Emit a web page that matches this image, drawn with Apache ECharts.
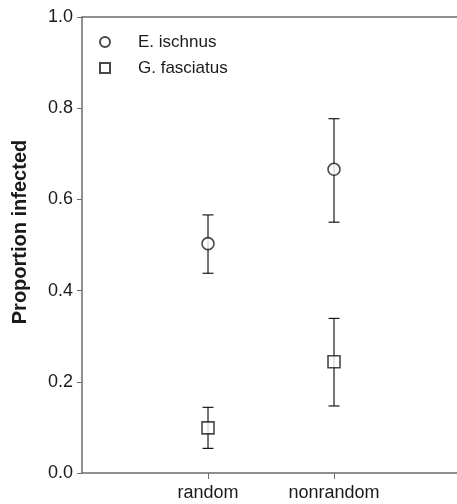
<!DOCTYPE html>
<html>
<head>
<meta charset="utf-8">
<script src="https://cdn.jsdelivr.net/npm/echarts@6/dist/echarts.min.js"></script>
<style>
  html, body { margin: 0; padding: 0; background: #fff; }
  #chart { width: 457px; height: 504px; }
</style>
</head>
<body>
<div id="chart"></div>
<script>
// categories sit at x = 1 and 2 on a 0..xMax value axis
const categories = ['random', 'nonrandom']
const catPos = [1, 2]
const xMax = 2.976

// E. ischnus
const ischnusMean = [0.503, 0.666]
const ischnusLow = [0.438, 0.550]
const ischnusHigh = [0.566, 0.777]

// G. fasciatus
const fasciatusMean = [0.099, 0.244]
const fasciatusLow = [0.054, 0.147]
const fasciatusHigh = [0.144, 0.339]

const yTicks = [0, 0.2, 0.4, 0.6, 0.8, 1.0]
const yTitle = 'Proportion infected'

const ink = '#1a1a1a'
const axisGray = '#6b6b6b'
const font = 'Liberation Sans, Arial, sans-serif'

function errorBars(lows, highs) {
    return {
        type: 'custom',
        silent: true,
        z: 1,
        data: catPos.map((x, i) => [x, lows[i], highs[i]]),
        renderItem(params, api) {
            const lo = api.coord([api.value(0), api.value(1)])
            const hi = api.coord([api.value(0), api.value(2)])
            const cap = 5.5
            const style = { stroke: ink, lineWidth: 1.2 }
            return {
                type: 'group',
                children: [
                    { type: 'line', shape: { x1: lo[0], y1: lo[1], x2: hi[0], y2: hi[1] }, style },
                    { type: 'line', shape: { x1: lo[0] - cap, y1: lo[1], x2: lo[0] + cap, y2: lo[1] }, style },
                    { type: 'line', shape: { x1: hi[0] - cap, y1: hi[1], x2: hi[0] + cap, y2: hi[1] }, style }
                ]
            }
        }
    }
}

const chart = echarts.init(document.getElementById('chart'))
chart.setOption({
    animation: false,
    backgroundColor: '#fff',
    grid: { left: 82, right: 0, top: 17, bottom: 31 },
    // y title sits a bit above the plot centre, as in the original
    graphic: [{
        type: 'text',
        x: 20,
        y: 232,
        rotation: Math.PI / 2,
        style: {
            text: yTitle,
            fontFamily: font, fontSize: 20, fontWeight: 'bold', fill: ink,
            align: 'center', verticalAlign: 'middle'
        }
    }],
    legend: {
        orient: 'vertical',
        left: 94,
        top: 28,
        itemWidth: 10,
        itemHeight: 10,
        itemGap: 8,
        textStyle: { fontFamily: font, fontSize: 17, lineHeight: 18, color: ink, padding: [0, 0, 0, 23] },
        data: ['E. ischnus', 'G. fasciatus']
    },
    xAxis: [{
        type: 'value',
        min: 0,
        max: xMax,
        interval: 1,
        splitLine: { show: false },
        axisLine: { lineStyle: { color: axisGray, width: 1.5 } },
        axisTick: { length: 6, customValues: catPos, lineStyle: { color: axisGray } },
        axisLabel: {
            fontFamily: font, fontSize: 18, color: ink, margin: 11,
            customValues: catPos,
            formatter: v => categories[catPos.indexOf(v)] || ''
        }
    }, {
        // top frame line only
        type: 'value',
        position: 'top',
        min: 0,
        max: xMax,
        splitLine: { show: false },
        axisLine: { show: true, lineStyle: { color: axisGray, width: 1.5 } },
        axisTick: { show: false },
        axisLabel: { show: false }
    }],
    yAxis: {
        type: 'value',
        min: yTicks[0],
        max: yTicks[yTicks.length - 1],
        interval: 0.2,
        splitLine: { show: false },
        axisLine: { show: true, lineStyle: { color: axisGray, width: 1.5 } },
        axisTick: { show: true, length: 5, lineStyle: { color: axisGray } },
        axisLabel: { fontFamily: font, fontSize: 18, color: ink, margin: 9, formatter: v => v.toFixed(1) }
    },
    series: [
        errorBars(ischnusLow, ischnusHigh),
        errorBars(fasciatusLow, fasciatusHigh),
        {
            name: 'E. ischnus',
            type: 'scatter',
            z: 3,
            symbol: 'circle',
            symbolSize: 12,
            itemStyle: { color: '#fff', borderColor: ink, borderWidth: 1.6 },
            data: catPos.map((x, i) => [x, ischnusMean[i]])
        },
        {
            name: 'G. fasciatus',
            type: 'scatter',
            z: 3,
            symbol: 'rect',
            symbolSize: 12,
            itemStyle: { color: '#fff', borderColor: ink, borderWidth: 1.6 },
            data: catPos.map((x, i) => [x, fasciatusMean[i]])
        }
    ]
})
</script>
</body>
</html>
